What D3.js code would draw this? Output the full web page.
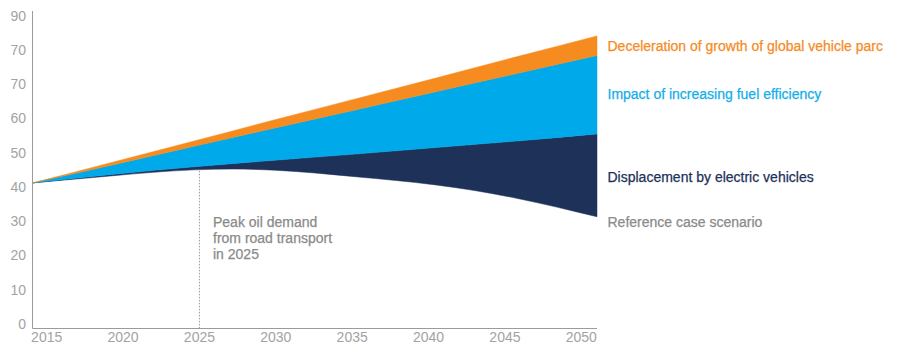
<!DOCTYPE html>
<html>
<head>
<meta charset="utf-8">
<script src="https://cdn.jsdelivr.net/npm/d3@7"></script>
<style>
  html, body { margin: 0; padding: 0; background: #fff; }
  svg { display: block; font-family: "Liberation Sans", Arial, Helvetica, sans-serif; }
</style>
</head>
<body>
<svg id="chart" width="898" height="345"></svg>
<script>
// ---- Data ----
const years = [2015, 2020, 2025, 2030, 2035, 2040, 2045, 2050];
const referenceCase = [41.2, 43.3, 45.0, 44.9, 43.0, 40.6, 36.7, 31.3];
const evDisplacement = [0, 0.4, 0.9, 2.9, 6.6, 10.9, 16.7, 24.2];
const fuelEfficiency = [0, 2.8, 6.0, 9.4, 12.9, 16.3, 19.7, 22.9];
const parcDeceleration = [0, 0.8, 1.5, 2.4, 3.2, 4.0, 4.9, 5.7];
const yTickValues = [0, 10, 20, 30, 40, 50, 60, 70, 80, 90];
const yTickLabels = ["0", "10", "20", "30", "40", "50", "60", "70", "70", "90"];
const xTickValues = [2015, 2020, 2025, 2030, 2035, 2040, 2045, 2050];
const peakYear = 2025;
const seriesKeys = ["reference", "ev", "fuel", "parc"];
const seriesColors = { ev: "#1d3159", fuel: "#00aaea", parc: "#f68b1f" };
const seriesLabels = [
  { key: "parc", text: "Deceleration of growth of global vehicle parc", color: "#f68b1f", y: 50.5 },
  { key: "fuel", text: "Impact of increasing fuel efficiency", color: "#12aeea", y: 99 },
  { key: "ev", text: "Displacement by electric vehicles", color: "#1d3159", y: 181.5 },
  { key: "reference", text: "Reference case scenario", color: "#8a8a8a", y: 226.5 }
];
const annotationLines = ["Peak oil demand", "from road transport", "in 2025"];

// ---- Build table ----
const table = years.map((yr, i) => ({
  year: yr,
  reference: referenceCase[i],
  ev: evDisplacement[i],
  fuel: fuelEfficiency[i],
  parc: parcDeceleration[i]
}));

const svg = d3.select("#chart");

const x = d3.scaleLinear().domain([2015, 2050]).range([33, 597]);
const xLabel = d3.scaleLinear().domain([2015, 2050]).range([46.7, 581.3]);
const y = d3.scaleLinear().domain([0, 90]).range([324, 15.7]);

const stack = d3.stack().keys(seriesKeys);
const layers = stack(table);

const area = d3.area()
  .x(d => x(d.data.year))
  .y0(d => y(d[0]))
  .y1(d => y(d[1]))
  .curve(d3.curveNatural);

svg.append("g").selectAll("path")
  .data(layers.filter(l => l.key !== "reference"))
  .join("path")
  .attr("d", area)
  .attr("fill", d => seriesColors[d.key])
  .attr("stroke", d => seriesColors[d.key])
  .attr("stroke-width", 0.5);

// ---- Axes ----
const axisColor = "#9b9b9b";
const labelColor = "#a3a3a3";

svg.append("line")
  .attr("x1", 32.5).attr("x2", 32.5)
  .attr("y1", 11).attr("y2", 328.5)
  .attr("stroke", axisColor).attr("stroke-width", 1);
svg.append("line")
  .attr("x1", 32.5).attr("x2", 597)
  .attr("y1", 328.5).attr("y2", 328.5)
  .attr("stroke", axisColor).attr("stroke-width", 1);

svg.append("g").selectAll("text")
  .data(yTickValues)
  .join("text")
  .attr("x", 26)
  .attr("y", d => y(d))
  .attr("dy", "0.35em")
  .attr("text-anchor", "end")
  .attr("font-size", 14)
  .attr("fill", labelColor)
  .text((d, i) => yTickLabels[i]);

svg.append("g").selectAll("text")
  .data(xTickValues)
  .join("text")
  .attr("x", d => xLabel(d))
  .attr("y", 342)
  .attr("text-anchor", "middle")
  .attr("font-size", 14)
  .attr("fill", labelColor)
  .text(d => d);

// ---- Peak annotation ----
const peakRef = referenceCase[years.indexOf(peakYear)];
svg.append("line")
  .attr("x1", xLabel(peakYear)).attr("x2", xLabel(peakYear))
  .attr("y1", y(peakRef) + 1).attr("y2", 328)
  .attr("stroke", "#9a9a9a")
  .attr("stroke-width", 1)
  .attr("stroke-dasharray", "1.5,1.5");

svg.append("g").selectAll("text")
  .data(annotationLines)
  .join("text")
  .attr("x", 213)
  .attr("y", (d, i) => 226.5 + i * 16)
  .attr("font-size", 14)
  .attr("fill", "#8a8a8a")
  .attr("stroke", "#8a8a8a")
  .attr("stroke-width", 0.25)
  .text(d => d);

// ---- Series labels ----
svg.append("g").selectAll("text")
  .data(seriesLabels)
  .join("text")
  .attr("x", 607.5)
  .attr("y", d => d.y)
  .attr("font-size", 14)
  .attr("fill", d => d.color)
  .attr("stroke", d => d.color)
  .attr("stroke-width", 0.25)
  .text(d => d.text);
</script>
</body>
</html>
